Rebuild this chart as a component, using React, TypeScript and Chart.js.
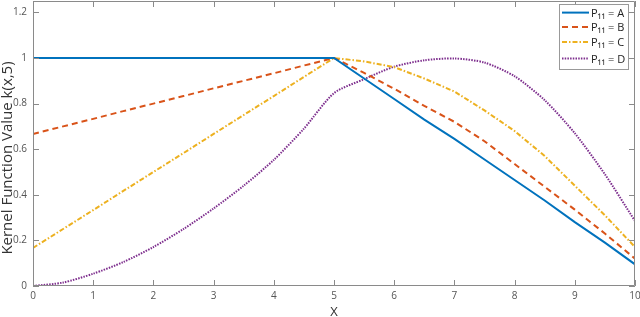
import React, { useEffect, useRef } from "react";
import { Chart, registerables } from "chart.js";

Chart.register(...registerables);

const X_VALUES = [0, 0.5, 1, 1.5, 2, 2.5, 3, 3.5, 4, 4.5, 5, 5.5, 6, 6.5, 7, 7.5, 8, 8.5, 9, 9.5, 10];
const SERIES_A = [1, 1, 1, 1, 1, 1, 1, 1, 1, 1, 1, 0.91, 0.82, 0.73, 0.645, 0.555, 0.465, 0.375, 0.28, 0.19, 0.095];
const SERIES_B = [0.667, 0.7, 0.733, 0.767, 0.8, 0.833, 0.867, 0.9, 0.933, 0.967, 1, 0.935, 0.865, 0.79, 0.72, 0.635, 0.535, 0.435, 0.335, 0.23, 0.12];
const SERIES_C = [0.167, 0.25, 0.333, 0.417, 0.5, 0.583, 0.667, 0.75, 0.833, 0.917, 1, 0.985, 0.96, 0.91, 0.853, 0.77, 0.68, 0.57, 0.44, 0.31, 0.171];
const SERIES_D = [0, 0.015, 0.054, 0.105, 0.171, 0.25, 0.34, 0.44, 0.553, 0.69, 0.846, 0.907, 0.962, 0.99, 0.998, 0.98, 0.92, 0.815, 0.67, 0.49, 0.285];
const SERIES_LABELS = ["P₁₁ = A", "P₁₁ = B", "P₁₁ = C", "P₁₁ = D"];
const X_TICKS = [0, 1, 2, 3, 4, 5, 6, 7, 8, 9, 10];
const Y_TICKS = [0, 0.2, 0.4, 0.6, 0.8, 1, 1.2];
const X_TITLE = "X";
const Y_TITLE = "Kernel Function Value k(x,5)";

const FONT = "'Open Sans', 'DejaVu Sans', sans-serif";
const AXIS_COLOR = "#8a8a8a";

const toPoints = (ys: number[]) => X_VALUES.map((x, i) => ({ x, y: ys[i] }));
const fmt = (v: any) => String(Number(Number(v).toFixed(2)));

const framePlugin = {
  id: "frame",
  afterDatasetsDraw(chart: any) {
    const { ctx, chartArea } = chart;
    const { left, right, top, bottom } = chartArea;
    const xs = chart.scales.x;
    const ys = chart.scales.y;
    const tl = 6;
    ctx.save();
    ctx.strokeStyle = AXIS_COLOR;
    ctx.lineWidth = 1;
    ctx.beginPath();
    ctx.rect(Math.round(left) + 0.5, Math.round(top) + 0.5, Math.round(right - left) - 1, Math.round(bottom - top) - 1);
    ctx.stroke();
    ctx.beginPath();
    xs.ticks.forEach((t: any) => {
      const px = Math.round(xs.getPixelForValue(t.value)) + 0.5;
      ctx.moveTo(px, bottom);
      ctx.lineTo(px, bottom - tl);
      ctx.moveTo(px, top);
      ctx.lineTo(px, top + tl);
    });
    ys.ticks.forEach((t: any) => {
      const py = Math.round(ys.getPixelForValue(t.value)) + 0.5;
      ctx.moveTo(left, py);
      ctx.lineTo(left + tl, py);
      ctx.moveTo(right, py);
      ctx.lineTo(right - tl, py);
    });
    ctx.stroke();

    // axis titles
    ctx.fillStyle = "#333";
    ctx.textAlign = "center";
    ctx.textBaseline = "middle";
    ctx.font = `13px ${FONT}`;
    ctx.fillText(X_TITLE, (left + right) / 2, 312);
    ctx.save();
    ctx.translate(8, 158);
    ctx.rotate(-Math.PI / 2);
    ctx.font = `15px ${FONT}`;
    ctx.fillText(Y_TITLE, 0, 0);
    ctx.restore();

    // legend
    const bw = 69;
    const bh = 65;
    const bx = Math.round(right) - 7 - bw;
    const by = Math.round(top) + 3;
    ctx.fillStyle = "#fff";
    ctx.fillRect(bx, by, bw, bh);
    ctx.strokeStyle = "#999";
    ctx.strokeRect(bx + 0.5, by + 0.5, bw, bh);
    const rowY = [8.6, 23, 38, 54.6];
    chart.data.datasets.forEach((ds: any, i: number) => {
      const y = by + rowY[i];
      ctx.save();
      ctx.strokeStyle = ds.borderColor;
      ctx.lineWidth = ds.borderWidth;
      ctx.setLineDash(ds.borderDash || []);
      ctx.beginPath();
      ctx.moveTo(bx + 3, y);
      ctx.lineTo(bx + 30, y);
      ctx.stroke();
      ctx.restore();
      ctx.fillStyle = "#222";
      ctx.textAlign = "left";
      ctx.textBaseline = "middle";
      ctx.font = `11px ${FONT}`;
      ctx.fillText(ds.label, bx + 32, y + 1);
    });
    ctx.restore();
  },
};

export default function App() {
  const ref = useRef<HTMLCanvasElement | null>(null);
  useEffect(() => {
    if (!ref.current) return;
    const chart = new Chart(ref.current, {
      type: "line",
      data: {
        datasets: [
          { label: SERIES_LABELS[0], data: toPoints(SERIES_A), borderColor: "#0072BD", borderWidth: 2, pointRadius: 0, tension: 0, fill: false },
          { label: SERIES_LABELS[1], data: toPoints(SERIES_B), borderColor: "#D95319", borderWidth: 2, borderDash: [6, 4], pointRadius: 0, tension: 0, fill: false },
          { label: SERIES_LABELS[2], data: toPoints(SERIES_C), borderColor: "#EDB120", borderWidth: 2, borderDash: [5, 2, 1.5, 2], pointRadius: 0, tension: 0, fill: false },
          { label: SERIES_LABELS[3], data: toPoints(SERIES_D), borderColor: "#7E2F8E", borderWidth: 2, borderDash: [1.5, 1.2], pointRadius: 0, tension: 0.25, fill: false },
        ],
      },
      options: {
        animation: false,
        responsive: false,
        layout: { padding: { left: 0, right: 5, top: 1, bottom: 0 } },
        plugins: { legend: { display: false }, tooltip: { enabled: false } },
        scales: {
          x: {
            type: "linear",
            min: 0,
            max: 10,
            afterBuildTicks: (s: any) => { s.ticks = X_TICKS.map((v) => ({ value: v })); },
            afterFit: (s: any) => { s.height = 31; s.paddingLeft = 0; s.paddingRight = 0; },
            ticks: { font: { size: 10, family: FONT }, color: "#555", padding: 4, maxRotation: 0, callback: fmt },
            grid: { display: false, drawTicks: false, tickLength: 0 },
            border: { display: false },
          },
          y: {
            type: "linear",
            min: 0,
            max: 1.25,
            afterBuildTicks: (s: any) => { s.ticks = Y_TICKS.map((v) => ({ value: v })); },
            afterFit: (s: any) => { s.width = 33; s.paddingTop = 0; s.paddingBottom = 0; },
            ticks: { font: { size: 10, family: FONT }, color: "#555", padding: 6, callback: fmt },
            grid: { display: false, drawTicks: false, tickLength: 0 },
            border: { display: false },
          },
        },
      },
      plugins: [framePlugin],
    });
    return () => chart.destroy();
  }, []);
  return (
    <div style={{ position: "fixed", left: 0, top: 0, width: 640, height: 317, background: "#fff" }}>
      <canvas ref={ref} width={640} height={317} style={{ display: "block" }} />
    </div>
  );
}
